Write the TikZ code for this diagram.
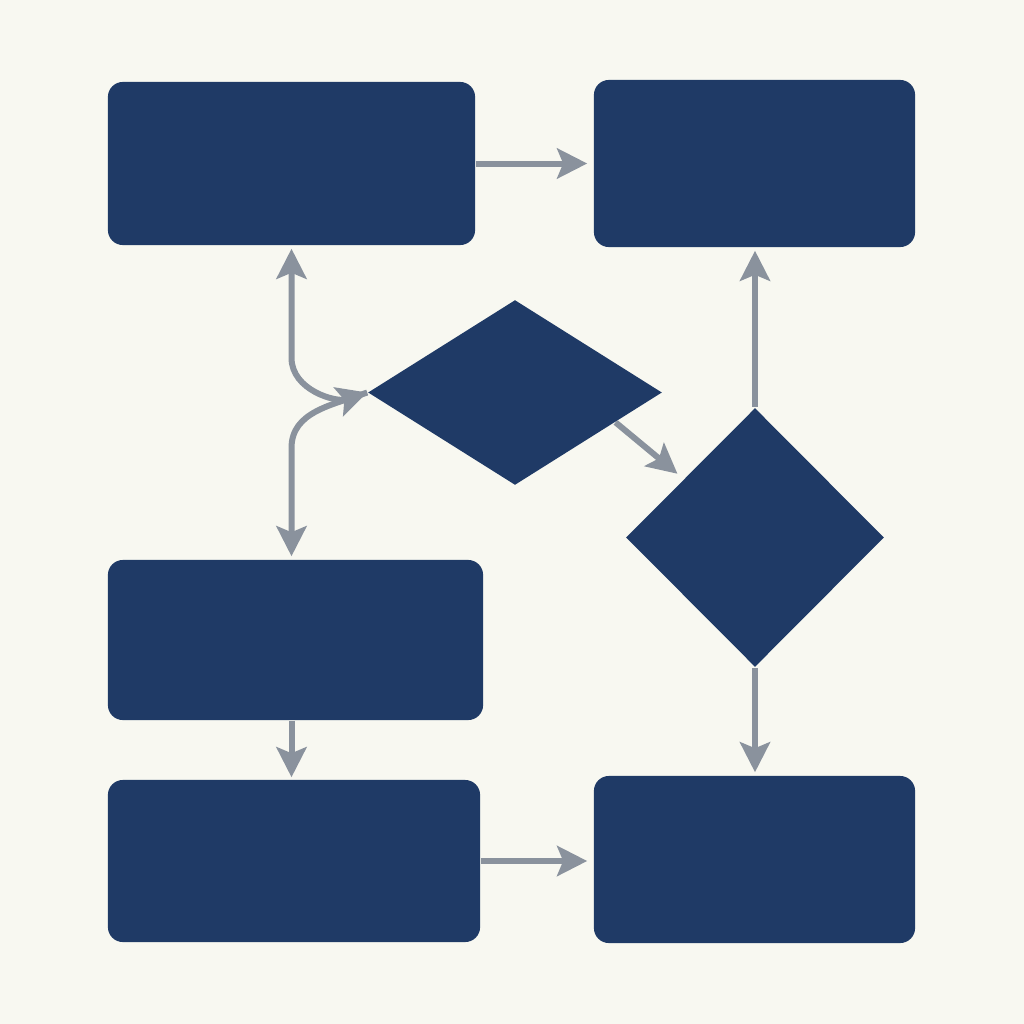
\documentclass[tikz,border=0pt]{standalone}
\usepackage{tikz}
\usetikzlibrary{shapes.geometric,arrows.meta,calc}

\definecolor{navy}{HTML}{1F3A66}
\definecolor{paper}{HTML}{F8F8F1}
\definecolor{wire}{HTML}{8A929D}

\tikzset{
    box/.style={fill=navy, rounded corners=0.15cm, inner sep=0pt},
    choice/.style={fill=navy, diamond, inner sep=0pt},
    flow/.style={draw=wire, line width=0.06cm, -{Stealth[length=0.3cm,width=0.3cm,inset=0.06cm]}}
}

\begin{document}
\begin{tikzpicture}[x=0.01cm,y=-0.01cm]
    \fill[paper] (0,0) rectangle (1024,1024);

    % Boxes and decisions
    \node[box, minimum width=3.67cm, minimum height=1.63cm] (start) at (291.5,163.5) {};
    \node[box, minimum width=3.21cm, minimum height=1.67cm] (goal) at (754.5,163.5) {};
    \node[box, minimum width=3.75cm, minimum height=1.60cm] (work) at (295.5,640) {};
    \node[box, minimum width=3.72cm, minimum height=1.62cm] (store) at (294,861) {};
    \node[box, minimum width=3.21cm, minimum height=1.67cm] (finish) at (754.5,859.5) {};
    \node[choice, minimum width=2.94cm, minimum height=1.85cm] (test) at (515,392.5) {};
    \node[choice, minimum width=2.58cm, minimum height=2.59cm] (route) at (755,537.5) {};

    % Straight connectors
    \draw[flow, shorten >=0.06cm] (start.east) -- (start.east -| goal.west);
    \draw[flow, shorten >=0.03cm] (route.north) -- (route.north |- goal.south);
    \draw[flow, shorten >=0.03cm] (route.south) -- (route.south |- finish.north);
    \draw[flow, shorten >=0.02cm] (work.south -| start.south) -- (store.north -| start.south);
    \draw[flow, shorten >=0.06cm] (store.east) -- (store.east -| finish.west);
    \draw[flow, shorten >=0.08cm] ($(test.east)!0.32!(test.south)$) -- ($(route.west)!0.45!(route.north)$);

    % Curved connectors at the left of the first decision
    \draw[flow, {Stealth[length=0.3cm,width=0.3cm,inset=0.06cm]}-{Stealth[length=0.3cm,width=0.3cm,inset=0.06cm]}, shorten <=0.03cm]
        (start.south) -- ++(0,112) to[out=-90,in=198] (test.west);
    \draw[flow, shorten >=0.03cm] (test.west) to[out=200,in=90] (291.5,448) -- (work.north -| start.south);
\end{tikzpicture}
\end{document}
